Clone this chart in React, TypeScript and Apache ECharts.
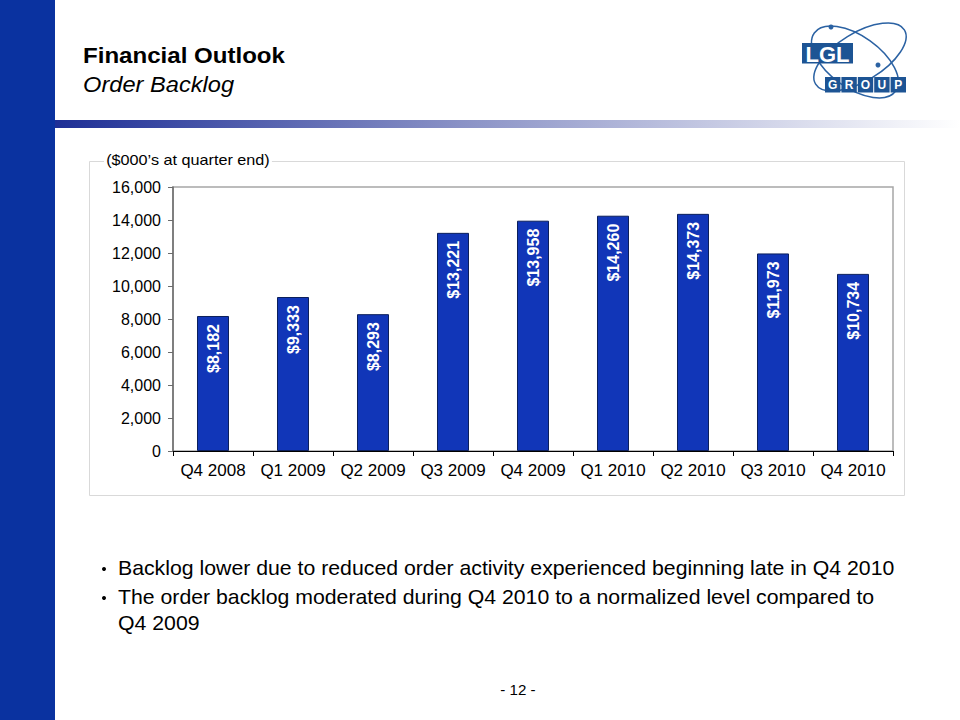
import React, { useEffect, useRef } from "react";
import * as echarts from "echarts";

const categories = ["Q4 2008", "Q1 2009", "Q2 2009", "Q3 2009", "Q4 2009", "Q1 2010", "Q2 2010", "Q3 2010", "Q4 2010"];
const backlog = [8182, 9333, 8293, 13221, 13958, 14260, 14373, 11973, 10734];
const yTicks = { min: 0, max: 16000, interval: 2000 };
const bullets = [
  "Backlog lower due to reduced order activity experienced beginning late in Q4 2010",
  "The order backlog moderated during Q4 2010 to a normalized level compared to",
  "Q4 2009",
];
const logoLetters = ["G", "R", "O", "U", "P"];

const FONT = "Arial, 'Liberation Sans', sans-serif";

export default function App() {
  const ref = useRef<HTMLDivElement>(null);
  useEffect(() => {
    if (!ref.current) return;
    const chart = echarts.init(ref.current, undefined, { renderer: "svg" });
    const logoColor = "#1d5494";
    const groupBoxes = logoLetters.map((l, i) => ({
      type: "group",
      x: 825 + i * 16.4,
      y: 77,
      children: [
        { type: "rect", shape: { x: 0, y: 0, width: 15.4, height: 15.5 }, style: { fill: logoColor } },
        {
          type: "text",
          style: { x: 7.7, y: 8.2, text: l, fill: "#fff", font: `bold 12px ${FONT}`, align: "center", verticalAlign: "middle" },
        },
      ],
    }));
    const scaledText = (x: number, y: number, text: string, font: string, sx: number, extra: any = {}) => ({
      type: "text",
      x,
      y,
      scaleX: sx,
      style: { x: 0, y: 0, text, font, fill: "#000", verticalAlign: "middle", ...extra },
    });
    chart.setOption({
      animation: false,
      backgroundColor: "#fff",
      textStyle: { fontFamily: FONT },
      grid: { left: 173, top: 187, width: 720, height: 264, show: true, borderColor: "#a6a6a6", borderWidth: 1.5, backgroundColor: "transparent" },
      xAxis: {
        type: "category",
        data: categories,
        axisLine: { lineStyle: { color: "#000", width: 1 } },
        axisTick: { show: true, length: 5, lineStyle: { color: "#000" } },
        axisLabel: { color: "#000", fontSize: 17, margin: 11, fontFamily: FONT, interval: 0, hideOverlap: false },
        splitLine: { show: false },
      },
      yAxis: {
        type: "value",
        min: yTicks.min,
        max: yTicks.max,
        interval: yTicks.interval,
        axisLine: { show: true, lineStyle: { color: "#6b6b6b", width: 1.5 } },
        axisTick: { show: true, length: 5, lineStyle: { color: "#6b6b6b" } },
        axisLabel: {
          color: "#000",
          fontSize: 16,
          margin: 12,
          fontFamily: FONT,
          formatter: (v: number) => v.toLocaleString("en-US"),
        },
        splitLine: { show: false },
      },
      series: [
        {
          type: "bar",
          data: backlog,
          barWidth: "40%",
          itemStyle: { color: "#1136b8", borderColor: "#0b1f5c", borderWidth: 1 },
          label: {
            show: true,
            position: "insideTop",
            distance: 8,
            rotate: 90,
            align: "right",
            verticalAlign: "middle",
            color: "#fff",
            fontWeight: "bold",
            fontSize: 16,
            fontFamily: FONT,
            formatter: (p: any) => "$" + Number(p.value).toLocaleString("en-US"),
          },
        },
      ],
      graphic: [
        { type: "rect", shape: { x: 0, y: 0, width: 55, height: 720 }, style: { fill: "#0a32a0" }, z: 10 },
        {
          type: "rect",
          shape: { x: 55, y: 120, width: 905, height: 8 },
          style: {
            fill: new echarts.graphic.LinearGradient(0, 0, 1, 0, [
              { offset: 0, color: "#1e2f96" },
              { offset: 0.45, color: "#8a92c6" },
              { offset: 1, color: "#ffffff" },
            ]),
          },
        },
        scaledText(83, 55, "Financial Outlook", `bold 22px ${FONT}`, 1.095),
        scaledText(83, 84, "Order Backlog", `italic 22px ${FONT}`, 1.075),
        { type: "rect", shape: { x: 89.5, y: 161.5, width: 815, height: 334 }, style: { fill: "none", stroke: "#d9d9d9", lineWidth: 1 }, z: -1 },
        scaledText(104, 160, "($000\u2019s at quarter end)", `15px ${FONT}`, 1.08, { backgroundColor: "#fff", padding: [0, 2] }),
        // Logo
        {
          type: "ellipse",
          x: 855,
          y: 62,
          rotation: -0.62,
          shape: { cx: 0, cy: 0, rx: 50, ry: 26 },
          style: { fill: "none", stroke: "#2b62a3", lineWidth: 1.5 },
        },
        {
          type: "ellipse",
          x: 860,
          y: 57,
          rotation: 0.55,
          shape: { cx: 0, cy: 0, rx: 52, ry: 24 },
          style: { fill: "none", stroke: "#2b62a3", lineWidth: 1.5 },
        },
        { type: "circle", shape: { cx: 831, cy: 27, r: 2.5 }, style: { fill: "#2b62a3" } },
        { type: "circle", shape: { cx: 878, cy: 65, r: 2.5 }, style: { fill: "#2b62a3" } },
        { type: "rect", shape: { x: 802, y: 43, width: 51, height: 20.5 }, style: { fill: logoColor } },
        {
          type: "text",
          style: { x: 827.5, y: 54, text: "LGL", fill: "#fff", font: `bold 22px ${FONT}`, align: "center", verticalAlign: "middle" },
        },
        ...groupBoxes,
        // Bullets
        ...bullets.map((b, i) => scaledText(118, [568, 597, 623][i], b, `20px ${FONT}`, 1.064)),
        { type: "circle", shape: { cx: 104, cy: 569, r: 2 }, style: { fill: "#000" } },
        { type: "circle", shape: { cx: 104, cy: 598, r: 2 }, style: { fill: "#000" } },
        scaledText(518, 690, "- 12 -", `14px ${FONT}`, 1.08, { align: "center" }),
      ],
    });
    return () => chart.dispose();
  }, []);
  return <div ref={ref} style={{ position: "fixed", left: 0, top: 0, width: 960, height: 720 }} />;
}
